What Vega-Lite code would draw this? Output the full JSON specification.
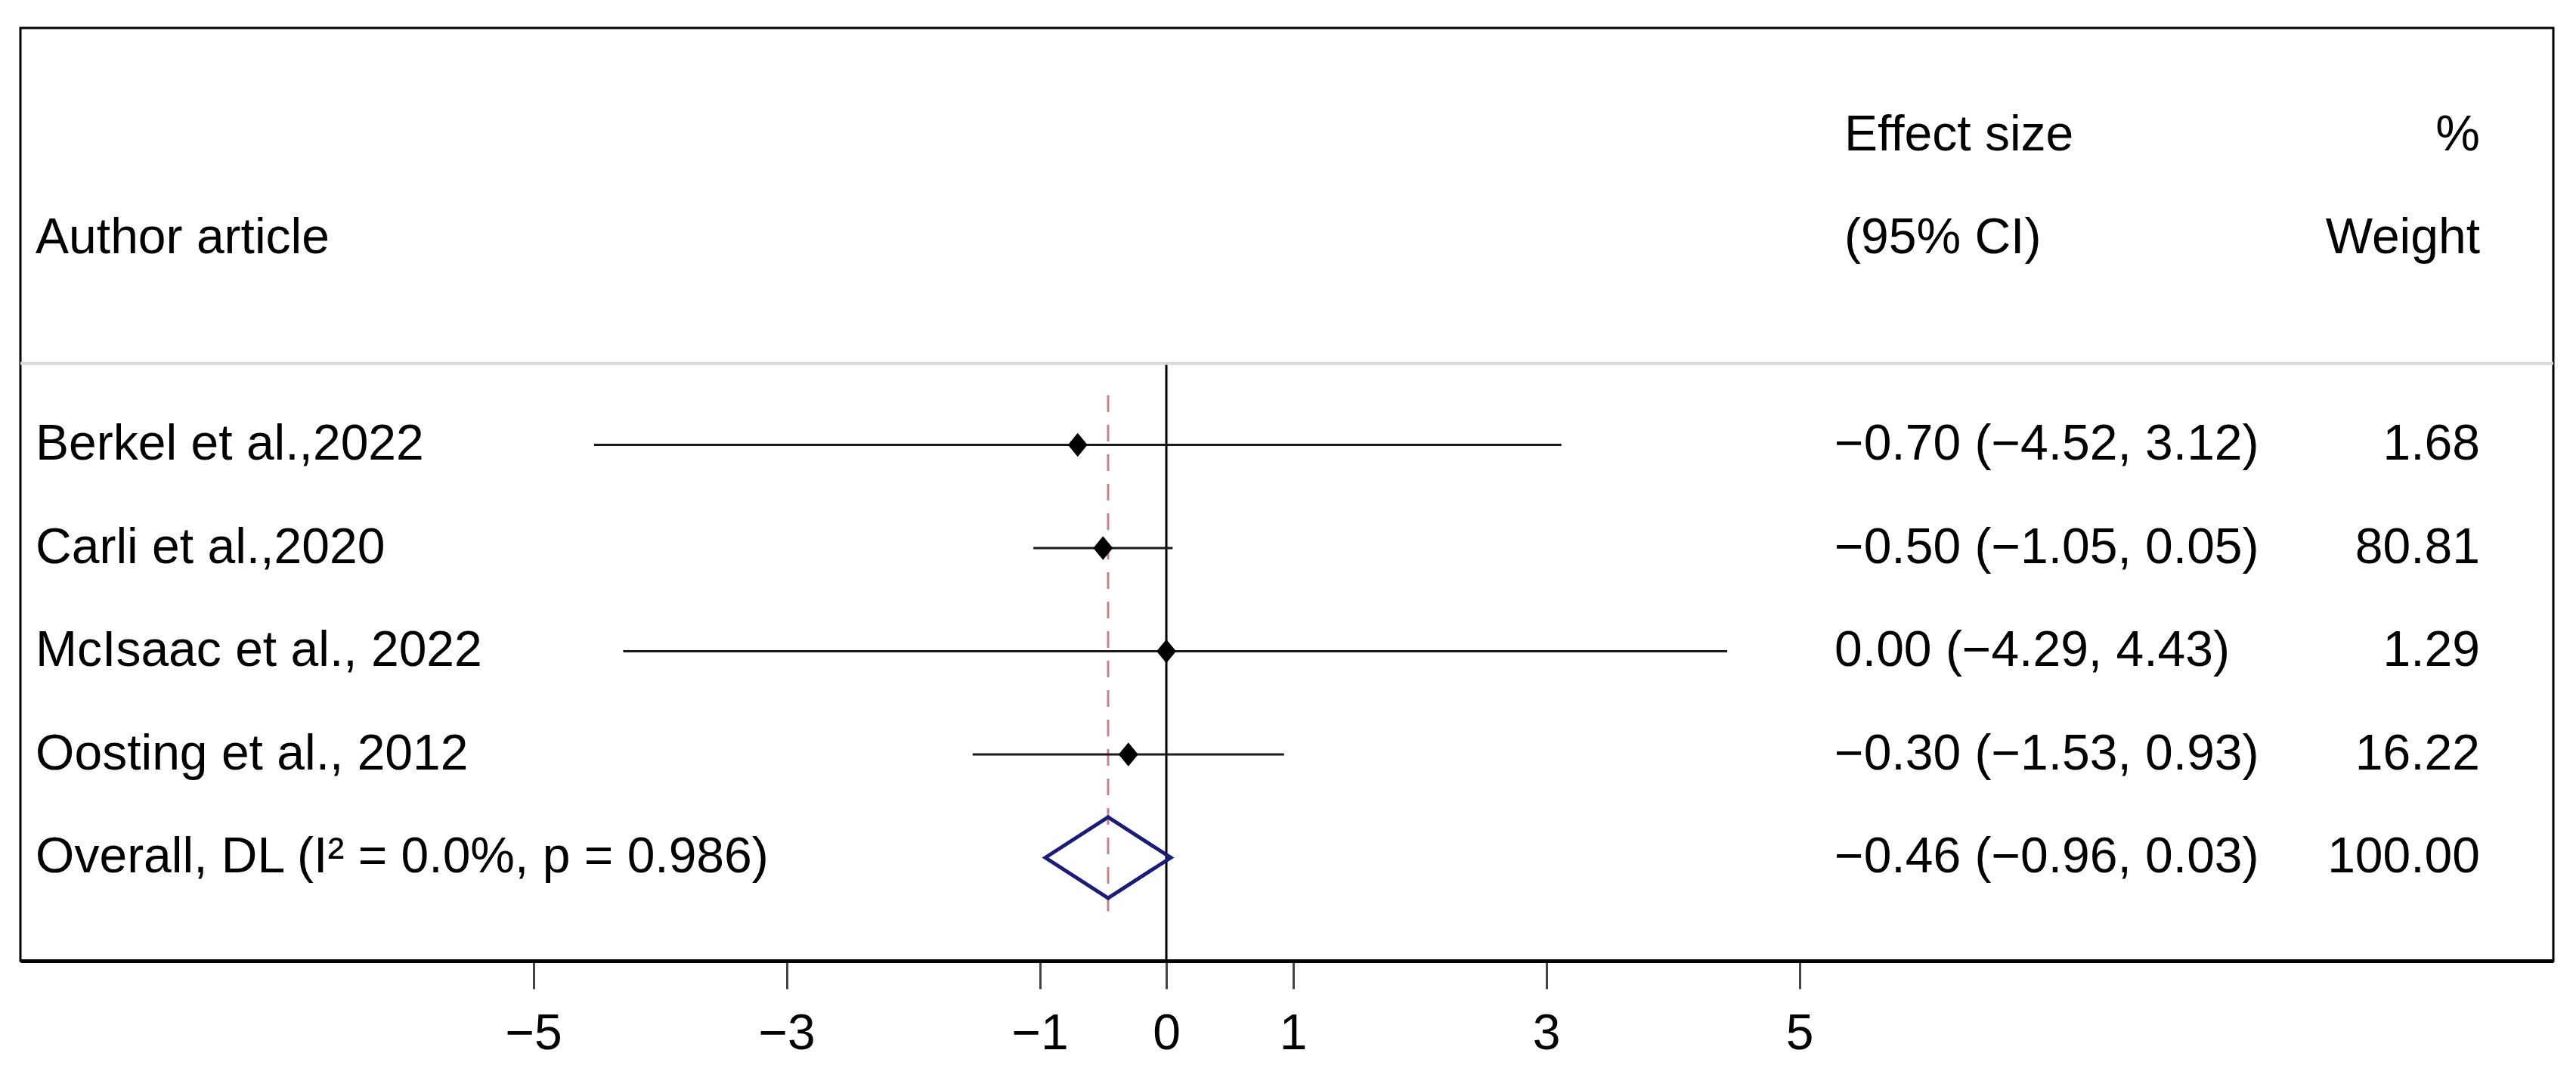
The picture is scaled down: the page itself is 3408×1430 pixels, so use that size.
{
  "$schema": "https://vega.github.io/schema/vega-lite/v6.json",
  "width": 3351,
  "height": 1234,
  "autosize": {"type": "none"},
  "padding": {"left": 27, "top": 37, "right": 30, "bottom": 159},
  "background": "white",
  "config": {
    "view": {"stroke": "black", "strokeWidth": 3},
    "font": "Liberation Sans",
    "text": {"font": "Liberation Sans", "fontSize": 66, "color": "black", "baseline": "middle"},
    "axisX": {
      "grid": false,
      "domainColor": "black",
      "domainWidth": 5,
      "tickColor": "#444444",
      "tickWidth": 3,
      "tickSize": 37,
      "labelFont": "Liberation Sans",
      "labelFontSize": 66,
      "labelColor": "black",
      "labelPadding": 27,
      "labelFlush": false,
      "labelOverlap": false
    }
  },
  "datasets": {
    "rows": [
      {"study": "Berkel et al.,2022", "kind": "study", "row": 4, "es": -0.70, "lo": -4.52, "hi": 3.12, "weight": 1.68, "ci": "−0.70 (−4.52, 3.12)"},
      {"study": "Carli et al.,2020", "kind": "study", "row": 5, "es": -0.50, "lo": -1.05, "hi": 0.05, "weight": 80.81, "ci": "−0.50 (−1.05, 0.05)"},
      {"study": "McIsaac et al., 2022", "kind": "study", "row": 6, "es": 0.00, "lo": -4.29, "hi": 4.43, "weight": 1.29, "ci": "\u00a00.00 (−4.29, 4.43)"},
      {"study": "Oosting et al., 2012", "kind": "study", "row": 7, "es": -0.30, "lo": -1.53, "hi": 0.93, "weight": 16.22, "ci": "−0.30 (−1.53, 0.93)"},
      {"study": "Overall, DL (I² = 0.0%, p = 0.986)", "kind": "overall", "row": 8, "es": -0.46, "lo": -0.96, "hi": 0.03, "weight": 100.00, "ci": "−0.46 (−0.96, 0.03)"}
    ],
    "header": [
      {"row": 1, "left": "", "es": "Effect size", "w": "%"},
      {"row": 2, "left": "Author article", "es": "(95% CI)", "w": "Weight"}
    ]
  },
  "layer": [
    {
      "data": {"name": "rows"},
      "transform": [{"filter": "datum.kind === 'overall'"}],
      "mark": {"type": "rule", "color": "black", "strokeWidth": 3},
      "encoding": {
        "x": {
          "datum": 0,
          "type": "quantitative",
          "scale": {"domain": [-9.051, 10.955], "nice": false, "zero": false},
          "axis": {"values": [-5, -3, -1, 0, 1, 3, 5], "title": null}
        },
        "y": {"datum": 3.21, "type": "quantitative", "scale": {"domain": [-0.04, 9], "reverse": true, "nice": false, "zero": false}, "axis": null},
        "y2": {"datum": 9}
      }
    },
    {
      "data": {"name": "rows"},
      "transform": [{"filter": "datum.kind === 'overall'"}],
      "mark": {"type": "rule", "color": "#d9d9d9", "strokeWidth": 4},
      "encoding": {
        "y": {"datum": 3.21, "type": "quantitative", "axis": null}
      }
    },
    {
      "data": {"name": "rows"},
      "transform": [{"filter": "datum.kind === 'overall'"}],
      "mark": {"type": "rule", "color": "#c4848e", "strokeWidth": 3, "strokeDash": [22, 17]},
      "encoding": {
        "x": {"field": "es", "type": "quantitative", "axis": {"values": [-5, -3, -1, 0, 1, 3, 5], "title": null}},
        "y": {"datum": 3.52, "type": "quantitative", "axis": null},
        "y2": {"datum": 8.52}
      }
    },
    {
      "data": {"name": "rows"},
      "transform": [{"filter": "datum.kind === 'study'"}],
      "mark": {"type": "rule", "color": "#1a1a1a", "strokeWidth": 3},
      "encoding": {
        "x": {"field": "lo", "type": "quantitative", "axis": {"values": [-5, -3, -1, 0, 1, 3, 5], "title": null}},
        "x2": {"field": "hi"},
        "y": {"field": "row", "type": "quantitative", "axis": null}
      }
    },
    {
      "data": {"name": "rows"},
      "transform": [{"filter": "datum.kind === 'study'"}],
      "mark": {"type": "point", "shape": "M-0.82,0L0,-1L0.82,0L0,1Z", "filled": true, "color": "black", "opacity": 1, "size": 1000},
      "encoding": {
        "x": {"field": "es", "type": "quantitative", "axis": {"values": [-5, -3, -1, 0, 1, 3, 5], "title": null}},
        "y": {"field": "row", "type": "quantitative", "axis": null}
      }
    },
    {
      "data": {"name": "rows"},
      "transform": [{"filter": "datum.kind === 'overall'"}],
      "mark": {"type": "point", "shape": "M-1,0L0,-0.645L1,0L0,0.645Z", "filled": false, "stroke": "#1b1b78", "strokeWidth": 5, "strokeJoin": "miter", "opacity": 1, "size": 27556},
      "encoding": {
        "x": {"field": "es", "type": "quantitative", "axis": {"values": [-5, -3, -1, 0, 1, 3, 5], "title": null}},
        "y": {"field": "row", "type": "quantitative", "axis": null}
      }
    },
    {
      "data": {"name": "rows"},
      "mark": {"type": "text", "align": "left"},
      "encoding": {
        "x": {"datum": -8.931, "type": "quantitative", "axis": {"values": [-5, -3, -1, 0, 1, 3, 5], "title": null}},
        "y": {"field": "row", "type": "quantitative", "axis": null},
        "text": {"field": "study"}
      }
    },
    {
      "data": {"name": "rows"},
      "mark": {"type": "text", "align": "left"},
      "encoding": {
        "x": {"datum": 5.278, "type": "quantitative", "axis": {"values": [-5, -3, -1, 0, 1, 3, 5], "title": null}},
        "y": {"field": "row", "type": "quantitative", "axis": null},
        "text": {"field": "ci"}
      }
    },
    {
      "data": {"name": "rows"},
      "mark": {"type": "text", "align": "right"},
      "encoding": {
        "x": {"datum": 10.376, "type": "quantitative", "axis": {"values": [-5, -3, -1, 0, 1, 3, 5], "title": null}},
        "y": {"field": "row", "type": "quantitative", "axis": null},
        "text": {"field": "weight", "type": "quantitative", "format": ".2f"}
      }
    },
    {
      "data": {"name": "header"},
      "mark": {"type": "text", "align": "left"},
      "encoding": {
        "x": {"datum": -8.931, "type": "quantitative", "axis": {"values": [-5, -3, -1, 0, 1, 3, 5], "title": null}},
        "y": {"field": "row", "type": "quantitative", "axis": null},
        "text": {"field": "left"}
      }
    },
    {
      "data": {"name": "header"},
      "mark": {"type": "text", "align": "left"},
      "encoding": {
        "x": {"datum": 5.355, "type": "quantitative", "axis": {"values": [-5, -3, -1, 0, 1, 3, 5], "title": null}},
        "y": {"field": "row", "type": "quantitative", "axis": null},
        "text": {"field": "es"}
      }
    },
    {
      "data": {"name": "header"},
      "mark": {"type": "text", "align": "right"},
      "encoding": {
        "x": {"datum": 10.376, "type": "quantitative", "axis": {"values": [-5, -3, -1, 0, 1, 3, 5], "title": null}},
        "y": {"field": "row", "type": "quantitative", "axis": null},
        "text": {"field": "w"}
      }
    }
  ]
}
